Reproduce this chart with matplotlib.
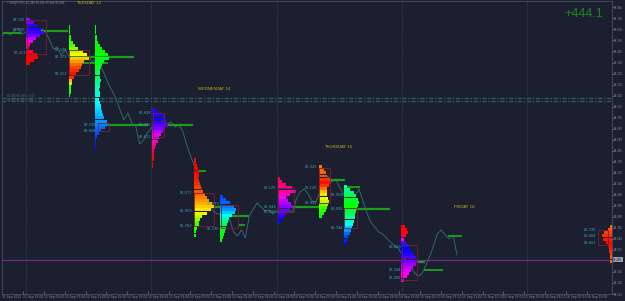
import numpy as np
import matplotlib
matplotlib.use('Agg')
import matplotlib.pyplot as plt
import matplotlib.patches as patches
from matplotlib.colors import hsv_to_rgb
from matplotlib.transforms import blended_transform_factory

BG = '#1c1f30'

# price line: one close every 45 min, x in hours (0 = 11 Sep 20:00)
t_start, t_step = -0.5, 0.75
closes = [87.582, 87.611, 87.582, 87.620, 87.649, 87.592, 87.611, 87.582, 87.630, 87.601,
          87.639, 87.611, 87.535, 87.449, 87.468, 87.392, 87.439, 87.373, 87.411, 87.363,
          87.392, 87.344, 87.373, 87.325, 87.363, 87.296, 87.211, 87.116, 87.049, 86.973,
          86.868, 86.773, 86.839, 86.744, 86.716, 86.544, 86.582, 86.649, 86.696, 86.754,
          86.716, 86.792, 86.735, 86.754, 86.706, 86.725, 86.668, 86.535, 86.430, 86.335,
          86.201, 86.087, 85.973, 85.944, 85.896, 85.877, 85.877, 85.792, 85.820, 85.706,
          85.668, 85.725, 85.649, 85.858, 85.925, 85.982, 85.944, 85.906, 85.916, 85.877,
          85.906, 85.849, 85.906, 85.925, 85.887, 86.020, 86.087, 86.116, 86.068, 86.001,
          85.992, 86.087, 86.154, 86.239, 86.182, 86.211, 86.135, 86.068, 85.992, 86.001,
          86.049, 86.116, 86.001, 85.887, 85.801, 85.754, 85.706, 85.687, 85.649, 85.611,
          85.573, 85.554, 85.487, 85.430, 85.373, 85.325, 85.287, 85.306, 85.382, 85.468,
          85.573, 85.687, 85.725, 85.677, 85.639, 85.677, 85.487]

# volume profiles, bins of 0.03 from the top price downwards
step = 0.03
VOL_H = 0.1911  # hours per volume unit

prof_a = dict(x=4.0, top=87.744, hues=[0.78, 0.68, 0.72, 0.85, 0.95, 1.0, 1.0],
              vols=[4, 8, 11, 15, 18, 14, 10, 7, 4, 3, 7, 11, 12, 8, 4],
              box=(4.19, 7.82, 87.725, 87.401), poc=87.620, poc_end=12.0,
              labels=[87.725, 87.630, 87.411])
prof_b = dict(x=12.21, top=87.677, hues=[0.33, 0.33, 0.28, 0.15, 0.05, 0.0, 0.3, 0.33],
              vols=[1.5, 1.5, 1.5, 2, 2.5, 4, 6, 9, 14, 18, 20, 15, 13, 12, 10, 7, 5, 3, 3,
                    2.5, 2, 2, 1.5],
              box=(12.21, 16.04, 87.439, 87.200), poc=87.373, poc_end=24.64,
              labels=[87.439, 87.373, 87.211])
prof_c = dict(x=17.18, top=87.677, hues=[0.33, 0.33, 0.36, 0.45, 0.52, 0.6, 0.66],
              vols=[1.5, 1.5, 1.5, 2, 2, 3, 5, 7, 10, 13, 14, 9, 7, 6, 5, 5, 5, 6, 5, 5,
                    4, 5, 5, 4, 5, 6, 6, 7, 8, 9, 12, 13, 10, 6, 4, 2, 1.5, 1.5, 1.5, 1.5],
              box=(17.76, 19.86, 86.744, 86.668), poc=86.725, poc_end=27.31,
              labels=[86.725, 86.668])
prof_d = dict(x=28.08, top=86.887, hues=[0.7, 0.68, 0.75, 0.85, 0.93, 0.98, 1.0],
              vols=[3, 7, 12, 14, 15, 16, 13, 11, 9, 7, 6, 4, 3, 2.5, 2, 2, 2, 1.5, 1.5],
              box=(28.27, 30.37, 86.839, 86.611), poc=86.725, poc_end=35.92,
              labels=[86.839, 86.725, 86.611])
prof_e = dict(x=36.10, top=86.411, hues=[0.0, 0.0, 0.03, 0.08, 0.15, 0.28, 0.33],
              vols=[2, 2.5, 3, 4, 5, 5, 4, 5, 6, 7, 9, 11, 13, 15, 18, 20, 17, 13, 8, 6,
                    5, 5, 3, 2.5, 2],
              box=(36.10, 39.93, 86.077, 85.763), poc=85.944, poc_end=41.27,
              labels=[86.077, 85.906, 85.763])
prof_f = dict(x=41.08, top=86.058, hues=[0.62, 0.6, 0.55, 0.45, 0.38, 0.33, 0.33],
              vols=[3, 6, 10, 14, 16, 15, 12, 9, 8, 7, 6, 5, 4, 3, 2],
              box=(41.27, 44.52, 85.963, 85.744), poc=85.858, poc_end=46.62,
              labels=[85.973, 85.735])
prof_g = dict(x=52.16, top=86.230, hues=[0.95, 0.92, 0.88, 0.8, 0.75, 0.7, 0.66],
              vols=[2, 4, 8, 14, 18, 12, 8, 10, 13, 15, 12, 8, 6, 4, 2],
              box=(52.16, 55.22, 86.125, 85.896), poc=85.944, poc_end=60.38,
              labels=[86.125, 85.944, 85.896])
prof_h = dict(x=60.0, top=86.344, hues=[0.08, 0.06, 0.0, 0.12, 0.2, 0.3, 0.33],
              vols=[3, 5, 7, 9, 12, 13, 11, 9, 8, 9, 10, 11, 10, 9, 7, 5, 3],
              box=(60.0, 62.29, 86.316, 85.982), poc=86.201, poc_end=65.16,
              labels=[86.325, 86.125, 85.982])
prof_i = dict(x=64.97, top=86.154, hues=[0.45, 0.38, 0.33, 0.4, 0.5, 0.6, 0.66],
              vols=[3, 6, 10, 12, 14, 15, 14, 13, 12, 11, 11, 10, 9, 8, 7, 6, 4, 3, 2],
              box=(64.97, 67.45, 85.935, 85.744), poc=85.925, poc_end=73.76,
              labels=[86.058, 85.925, 85.744])
prof_j = dict(x=75.86, top=85.773, hues=[1.0, 0.98, 0.65, 0.68, 0.75, 0.82, 0.87],
              vols=[4, 6, 7, 5, 3, 5, 7, 9, 11, 13, 15, 17, 15, 12, 10, 8, 6, 3],
              box=(76.05, 78.92, 85.582, 85.249), poc=85.420, poc_end=80.45,
              labels=[85.563, 85.344, 85.268])
# developing profile pinned to the right edge
prof_k = dict(x=116.19, top=85.773, hues=[0.07, 0.03, 0.0, 0.03, 0.07],
              vols=[2, 4, 8, 10, 9, 6, 4, 3, 3, 2, 2, 2],
              box=(113.5, 115.4, 85.725, 85.582), poc=85.668, poc_end=None,
              labels=[85.725, 85.668, 85.601])
profiles = [prof_a, prof_b, prof_c, prof_d, prof_e, prof_f, prof_g, prof_h, prof_i, prof_j]

# loose green levels (h0, h1, price)
extra_levels = [(-0.4, 3.0, 87.601), (13.9, 19.7, 87.316), (36.9, 38.4, 86.287),
                (44.7, 46.0, 85.773), (65.0, 68.0, 86.135), (80.1, 83.9, 85.344),
                (84.7, 87.5, 85.668)]

day_lines = [4, 28, 52, 76, 100]
day_names = ['TUESDAY 12', 'WEDNESDAY 14', 'THURSDAY 15', 'FRIDAY 16']
day_label_pos = [(16.0, 87.885), (40.1, 87.068), (63.8, 86.516), (87.9, 85.944)]

date_ticks = [-0.6 + 4 * k for k in range(29)]
date_labels = ['11 Sep 2023', '11 Sep 23:00', '12 Sep 03:00', '12 Sep 07:00', '12 Sep 11:00',
               '12 Sep 15:00', '12 Sep 19:00', '12 Sep 23:00', '13 Sep 03:00', '13 Sep 07:00',
               '13 Sep 11:00', '13 Sep 15:00', '13 Sep 19:00', '13 Sep 23:00', '14 Sep 03:00',
               '14 Sep 07:00', '14 Sep 11:00', '14 Sep 15:00', '14 Sep 19:00', '14 Sep 23:00',
               '15 Sep 03:00', '15 Sep 07:00', '15 Sep 11:00', '15 Sep 15:00', '15 Sep 19:00',
               '15 Sep 23:00', '16 Sep 03:00', '16 Sep 07:00', '16 Sep 11:00']
price_ticks = [87.845 - 0.105 * k for k in range(27)]
last_price = 85.440
band_prices = [86.979, 86.951]

fig = plt.figure(figsize=(6.25, 3.01), dpi=100, facecolor=BG)
ax = fig.add_axes([2 / 625, 7 / 301, 610 / 625, 293 / 301])
ax.set_facecolor(BG)
ax.set_xlim(-0.4, 116.19)
ax.set_ylim(85.115, 87.906)

for x in day_lines[:-1]:
    ax.axvline(x, color='#1f4632', lw=0.7, ls=(0, (1.5, 1)), zorder=1)
ax.axvline(day_lines[-1], color='#3a3e50', lw=0.7, ls=(0, (1, 1)), zorder=1)

for yb in band_prices:
    ax.axhline(yb, color='#36585a', lw=1.0, ls=(0, (3, 1.2, 1, 1.2)), zorder=1)
ax.axhline(last_price, color='#7a2a80', lw=0.8, zorder=2)

times = t_start + t_step * np.arange(len(closes))
ax.plot(times, closes, color='#2d6a6c', lw=0.7, zorder=3)


def draw_profile(p, side=1):
    vols = np.array(p['vols'], dtype=float)
    n = len(vols)
    centers = p['top'] - step * (np.arange(n) + 0.5)
    hues = np.interp(np.linspace(0, 1, n), np.linspace(0, 1, len(p['hues'])), p['hues']) % 1.0
    cols = hsv_to_rgb(np.column_stack([hues, np.ones(n), np.ones(n)]))
    w = vols * VOL_H
    left = p['x'] if side > 0 else p['x'] - w
    if p['poc_end'] is not None:
        ax.plot([p['x'], p['poc_end']], [p['poc'], p['poc']], color='#1e9a1e', lw=1.6,
                solid_capstyle='butt', zorder=4)
    ax.barh(centers, w, height=step * 0.95, left=left, color=cols, linewidth=0, zorder=5)
    x0, x1, vah, val = p['box']
    ax.add_patch(patches.Rectangle((x0, val), x1 - x0, vah - val, fill=False,
                                   ec='#7e1f30', lw=0.6, zorder=6))
    lx = x0 - 0.25
    for lv in p['labels']:
        ax.text(lx, lv, f'{lv:.3f}', ha='right', va='center', fontsize=2.6,
                color='#3aa6b9', zorder=7)


for h0, h1, pr in extra_levels:
    ax.plot([h0, h1], [pr, pr], color='#1e9a1e', lw=1.4, solid_capstyle='butt', zorder=4)

for p in profiles:
    draw_profile(p)
draw_profile(prof_k, side=-1)

for name, (hx, py) in zip(day_names, day_label_pos):
    ax.text(hx, py, name, ha='center', va='center', fontsize=3, color='#bdb21f', zorder=8)

ax.text(114.5, 87.782, '+444.1', ha='right', va='center', fontsize=9,
        family='Liberation Sans', color='#1c8a1c', zorder=8)
ax.text(0.3, 87.885, '\u2022 EURJPY,M15 85.486 85.490 85.480 85.486', ha='left',
        va='center', fontsize=1.9, color='#8a8f9c', zorder=8)
ax.text(0.3, 87.000, '86.982/86.955 +0.03', ha='left', va='center', fontsize=1.9,
        color='#55707a', zorder=8)
ax.text(0.3, 86.962, '86.951/86.929 -0.02', ha='left', va='center', fontsize=1.9,
        color='#55707a', zorder=8)

# axes styling
for s in ax.spines.values():
    s.set_color('#4a4e60')
    s.set_linewidth(0.6)
ax.yaxis.tick_right()
ax.set_yticks(price_ticks)
# the live price tag takes the place of the nearest scale label
ax.set_yticklabels(['' if abs(v - last_price) < 0.05 else f'{v:.3f}' for v in price_ticks])
ax.tick_params(axis='y', length=1.2, width=0.4, pad=0.3, labelsize=1.9,
               colors='#8a8f9c')
ax.set_xticks(date_ticks)
ax.set_xticklabels(date_labels)
ax.tick_params(axis='x', length=2, width=0.4, pad=0.6, labelsize=2.2,
               colors='#8a8f9c', direction='in')
for lab in ax.get_xticklabels():
    lab.set_ha('left')

trans = blended_transform_factory(ax.transAxes, ax.transData)
ax.text(1.002, last_price, f'{last_price:.3f}', transform=trans, ha='left', va='center',
        fontsize=1.9, color='#1c1f30', zorder=9,
        bbox=dict(boxstyle='square,pad=0.15', fc='#9aa0ad', ec='none'))

fig.savefig('out.png', dpi=100, facecolor=BG)
